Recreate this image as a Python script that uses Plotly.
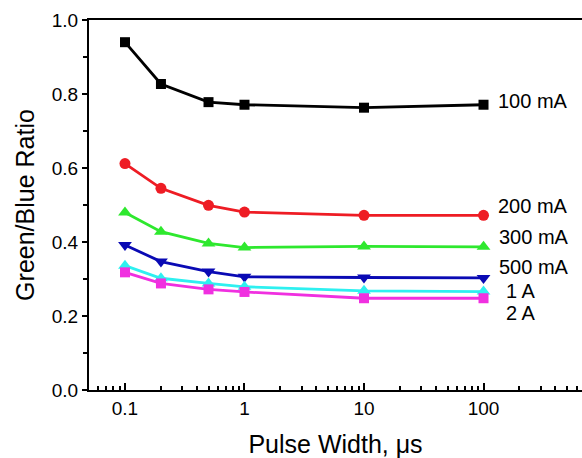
import math
import plotly.graph_objects as go

# Pulse widths (microseconds)
pulse_width = [0.1, 0.2, 0.5, 1, 10, 100]

# Green/Blue ratio for each drive current
ratio_100mA = [0.940, 0.827, 0.778, 0.771, 0.763, 0.771]
ratio_200mA = [0.612, 0.545, 0.499, 0.481, 0.472, 0.472]
ratio_300mA = [0.480, 0.428, 0.396, 0.385, 0.388, 0.387]
ratio_500mA = [0.392, 0.347, 0.320, 0.306, 0.304, 0.303]
ratio_1A = [0.336, 0.302, 0.288, 0.279, 0.268, 0.266]
ratio_2A = [0.318, 0.288, 0.272, 0.265, 0.248, 0.248]

series_names = ["100 mA", "200 mA", "300 mA", "500 mA", "1 A", "2 A"]
series_values = [ratio_100mA, ratio_200mA, ratio_300mA, ratio_500mA, ratio_1A, ratio_2A]

colors = ["#000000", "#ee1c24", "#2ee82e", "#0a0ab4", "#2ef0f0", "#f030e0"]
symbols = ["square", "circle", "triangle-up", "triangle-down", "triangle-up", "square"]
sizes = [10, 11, 12, 12, 12, 10]

# Inline curve labels: (x in log10 units, y)
label_pos = [(2.105, 0.782), (2.105, 0.497), (2.112, 0.414), (2.112, 0.332),
             (2.168, 0.268), (2.168, 0.208)]

FONT = "Liberation Sans, Arial, sans-serif"

fig = go.Figure()
for name, vals, col, sym, sz in zip(series_names, series_values, colors, symbols, sizes):
    fig.add_trace(go.Scatter(
        x=pulse_width, y=vals, mode="lines+markers", name=name,
        line=dict(color=col, width=2.8),
        marker=dict(symbol=sym, size=sz, color=col),
        showlegend=False,
    ))

for name, (lx, ly) in zip(series_names, label_pos):
    fig.add_annotation(x=lx, y=ly, text=name, showarrow=False,
                       xanchor="left", yanchor="middle",
                       font=dict(family=FONT, size=20, color="#000000"))

fig.update_layout(
    width=582, height=458,
    margin=dict(l=89, r=0, t=20, b=68),
    paper_bgcolor="white", plot_bgcolor="white",
    font=dict(family=FONT, color="#000000"),
)

fig.update_xaxes(
    type="log",
    range=[math.log10(0.05), math.log10(667)],
    tickvals=[0.1, 1, 10, 100], ticktext=["0.1", "1", "10", "100"],
    ticks="inside", ticklen=7, tickwidth=2, tickcolor="#000",
    minor=dict(ticks="inside", ticklen=4, tickwidth=1.5, tickcolor="#000",
               dtick="D1", showgrid=False),
    showline=True, linecolor="#000", linewidth=2, mirror=True,
    showgrid=False, zeroline=False,
    tickfont=dict(size=19),
    title=dict(text="Pulse Width, μs", font=dict(size=25), standoff=20),
)

fig.update_yaxes(
    range=[0, 1.0],
    tickvals=[0, 0.2, 0.4, 0.6, 0.8, 1.0],
    ticktext=["0.0", "0.2", "0.4", "0.6", "0.8", "1.0"],
    ticks="outside", ticklen=5, tickwidth=2, tickcolor="#000",
    minor=dict(ticks="outside", ticklen=4, tickwidth=1.5, tickcolor="#000",
               dtick=0.1, showgrid=False),
    showline=True, linecolor="#000", linewidth=2,
    showgrid=False, zeroline=False,
    tickfont=dict(size=19),
    title=dict(text="Green/Blue Ratio", font=dict(size=25), standoff=10),
)

fig.write_html("out.html")
